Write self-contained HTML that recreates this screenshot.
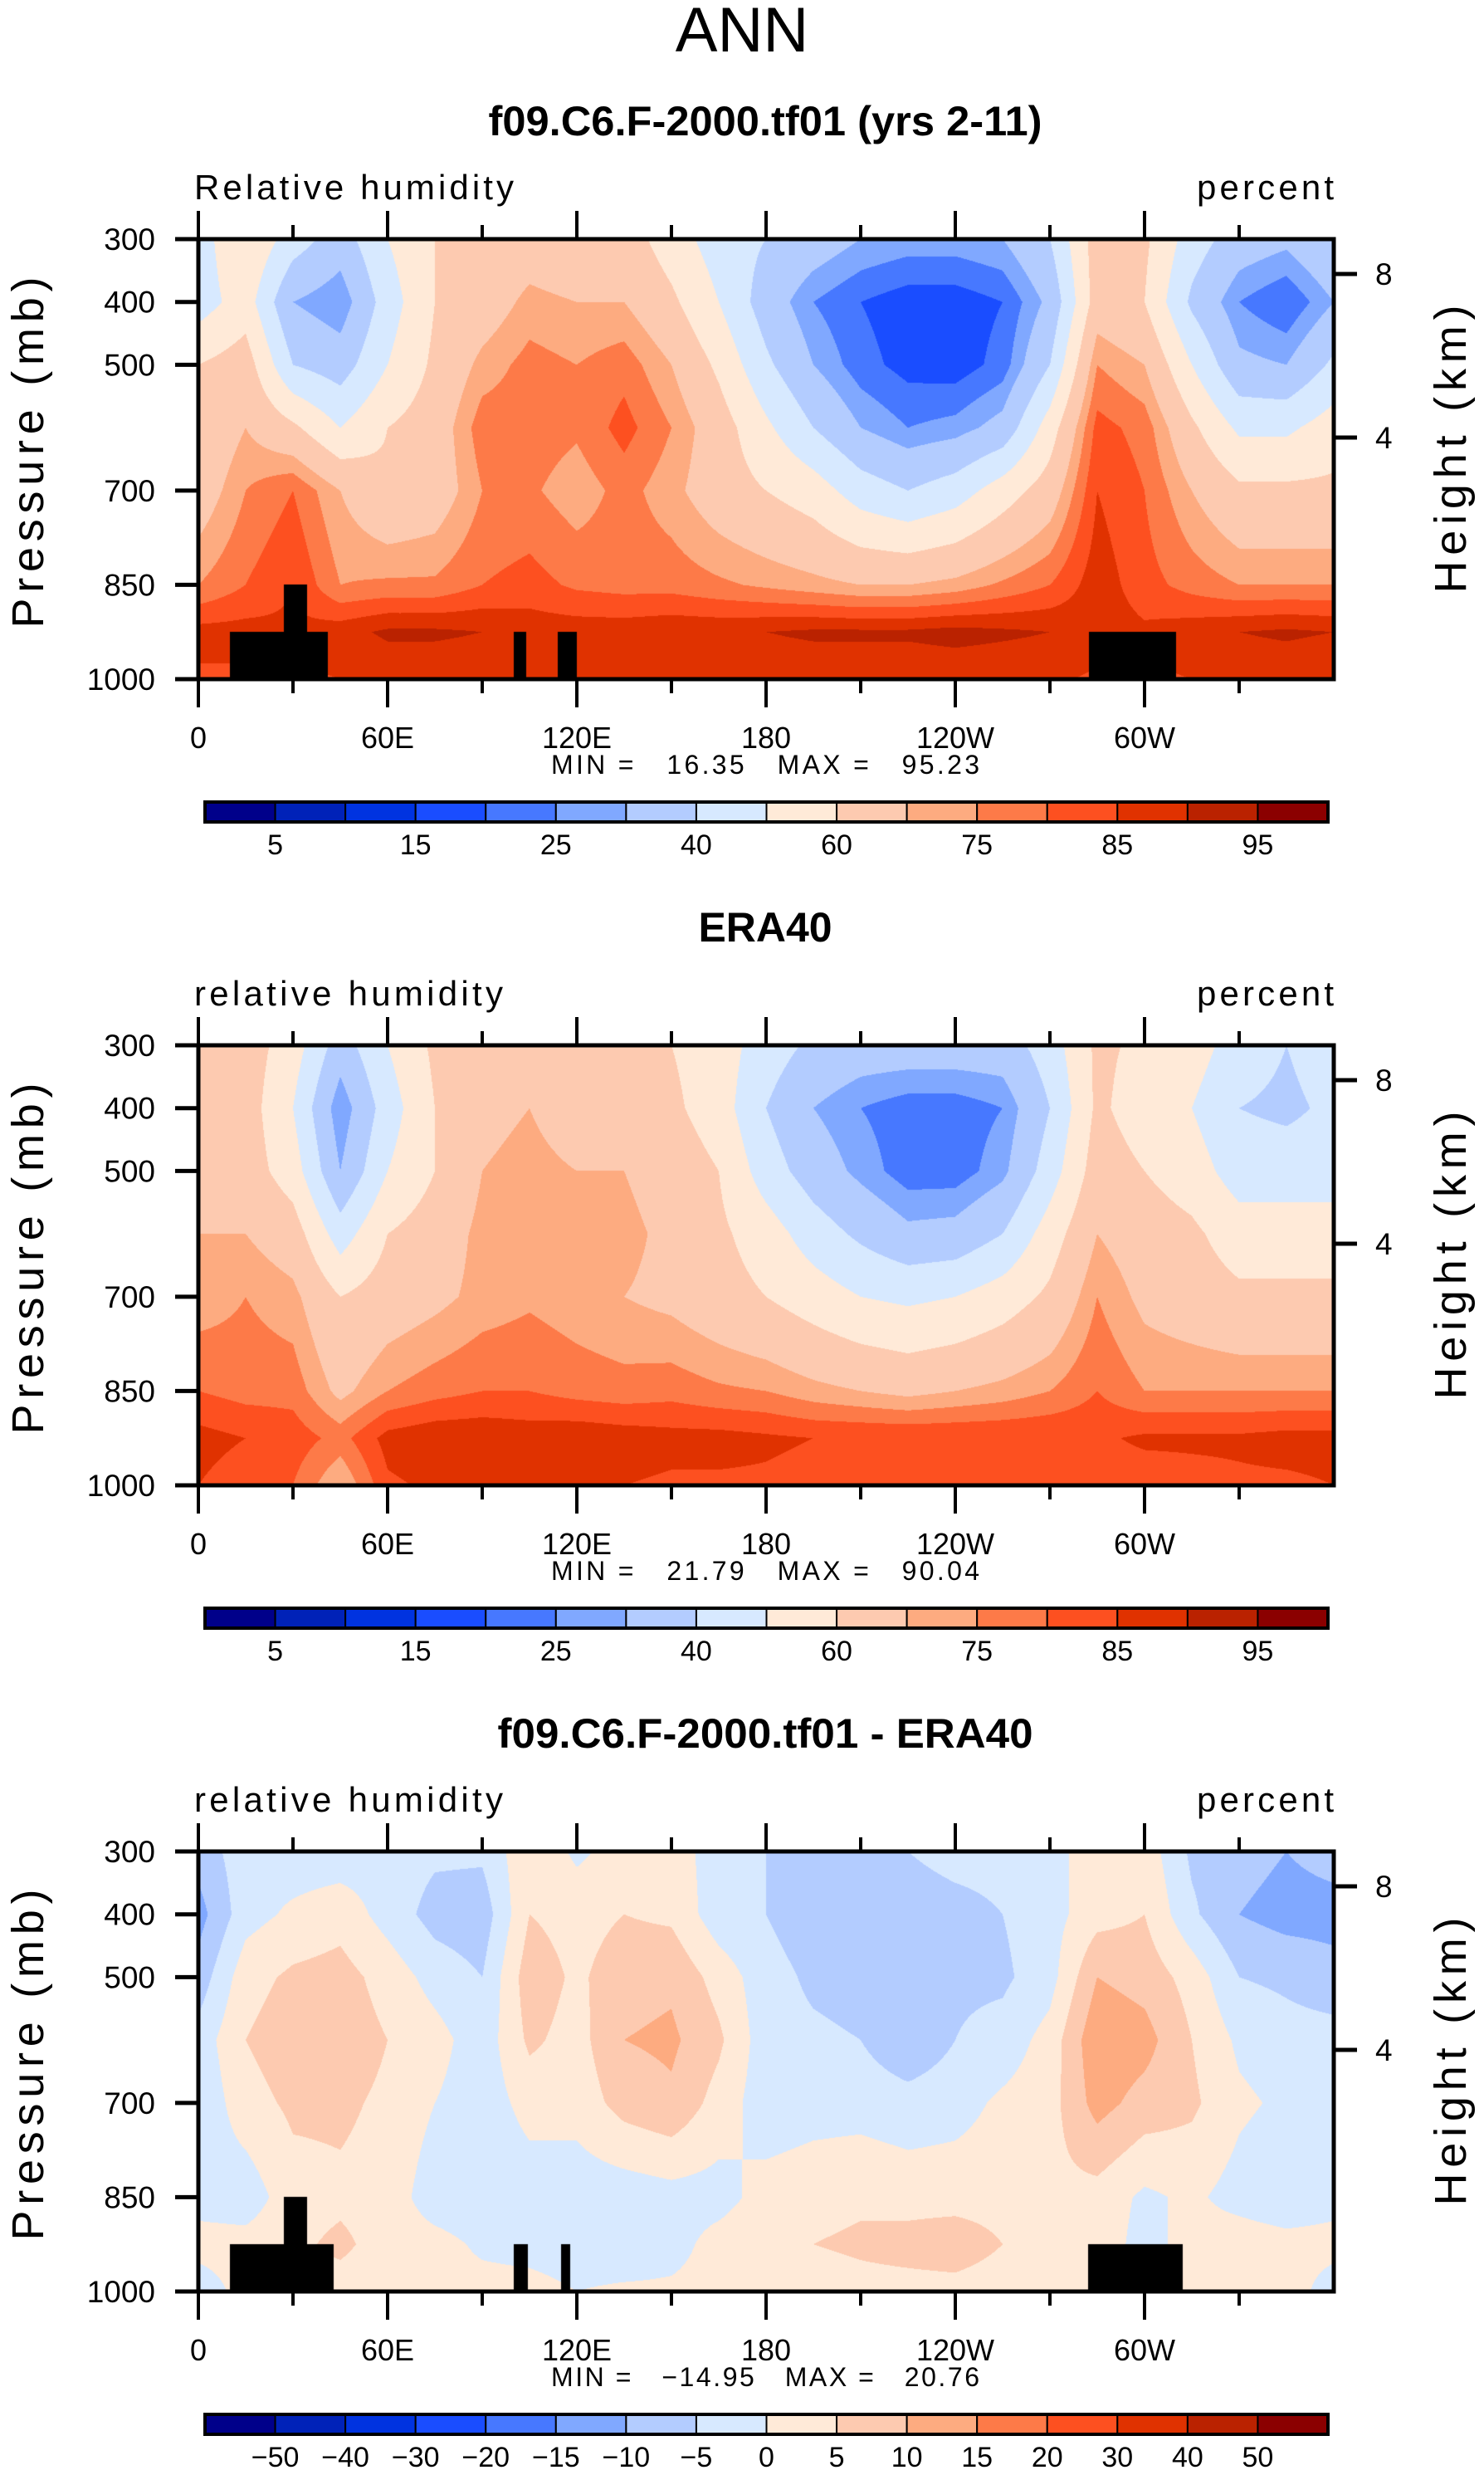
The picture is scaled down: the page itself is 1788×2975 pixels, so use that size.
<!DOCTYPE html>
<html><head><meta charset="utf-8">
<style>
body{margin:0;background:#fff;width:1788px;height:2975px;position:relative;overflow:hidden;font-family:"Liberation Sans",sans-serif}
canvas{position:absolute}
svg{position:absolute;left:0;top:0}
text{white-space:pre}
</style></head>
<body>
<canvas id="c1" width="1368" height="530" style="left:239px;top:288px"></canvas>
<canvas id="c2" width="1368" height="530" style="left:239px;top:1259px"></canvas>
<canvas id="c3" width="1368" height="530" style="left:239px;top:2230px"></canvas>
<svg id="ov" width="1788" height="2975"></svg>
<script>
// ---- data ----
const lons=[0,15,30,45,60,75,90,105,120,135,150,165,180,195,210,225,240,255,270,285,300,315,330,345,360];
const levels=[300,400,500,600,700,850,925,1000];
const rhModel=[
[45,45,60,62,65,75,87,84],[60,55,65,70,75,80,87,84],[45,30,40,62,80,85,86,84],[35,25,35,50,70,75,88,85],
[50,45,50,60,62,76,91,86],[60,60,62,65,65,76,91,86],[62,65,72,78,75,80,90,86],[65,72,77,78,76,82,88,85],
[62,70,75,76,72,79,88,85],[65,70,78,82,77,78,88,85],[55,62,70,75,72,78,89,85],[45,50,58,65,65,76,89,86],
[40,35,42,52,60,74,90,86],[35,25,30,40,55,72,91,86],[30,20,22,30,45,70,91,86],[28,17,18,25,40,70,91,86],
[28,17,17,27,45,72,92,86],[30,20,22,33,55,76,91,86],[40,32,40,55,65,80,90,86],[65,65,75,82,85,88,88,84],
[62,60,70,78,80,82,86,84],[45,38,50,62,70,78,88,85],[35,25,32,48,62,75,90,86],[32,20,30,48,62,75,91,86],
[40,30,42,55,62,75,90,85]];
const rhEra=[
[62,60,62,70,72,80,87,85],[65,65,65,70,75,78,85,82],[55,50,55,65,72,78,83,80],[35,25,30,45,60,68,78,70],
[50,45,50,60,65,75,87,84],[62,60,60,65,68,78,89,86],[65,68,70,72,72,80,89,86],[66,70,72,74,74,80,88,85],
[62,66,70,72,72,78,89,86],[62,66,70,72,70,77,88,85],[60,62,66,68,68,78,87,84],[55,55,60,62,64,76,87,84],
[45,40,45,55,60,75,86,84],[38,30,35,45,55,72,85,83],[35,25,28,38,50,70,85,83],[35,22,22,32,48,68,85,83],
[35,22,22,33,50,70,85,83],[35,25,28,40,55,72,85,83],[45,40,45,55,62,75,85,83],[62,62,65,70,75,80,84,82],
[58,55,60,65,68,75,86,82],[55,50,55,62,65,75,86,83],[45,40,45,55,62,75,86,84],[40,38,45,55,62,75,87,84],
[45,42,45,55,62,75,87,85]];
const rhDiff=[
[-8,-12,-8,-3,-4,-2,2,-3],[-2,-2,3,5,3,-3,2,2],[-3,1,6,8,6,3,4,3],[-3,3,7,8,6,4,6,3],
[-2,-2,3,5,4,3,3,2],[-4,-7,-2,2,0,-3,2,2],[-4,-8,-5,-3,-3,-4,-1,2],[4,5,8,6,2,-3,-2,2],
[-1,3,4,3,2,-3,-3,0],[2,5,8,10,7,-3,-4,1],[3,4,9,11,9,-2,-2,1],[-3,-3,3,6,3,-2,2,2],
[-5,-5,-3,-3,-3,2,4,2],[-6,-8,-6,-4,-2,3,5,2],[-8,-9,-7,-5,-2,4,6,3],[-5,-8,-8,-9,-3,3,7,3],
[-3,-7,-6,-5,-2,3,8,3],[-3,-5,-6,-3,1,3,5,2],[-2,-2,-2,2,3,4,3,2],[3,3,10,14,12,3,3,2],
[3,5,8,12,8,-1,-2,3],[-6,-4,3,5,6,1,2,3],[-8,-10,-5,-1,1,-2,3,2],[-10,-12,-6,-3,-1,-4,2,3],
[-8,-12,-8,-3,-4,-2,2,-3]];
const rhThresholds=[5,10,15,20,25,30,40,50,60,70,75,80,85,90,95];
const diffThresholds=[-50,-40,-30,-20,-15,-10,-5,0,5,10,15,20,30,40,50];
const rhTickLabels=['5','','15','','25','','40','','60','','75','','85','','95'];
const diffTickLabels=['\u221250','\u221240','\u221230','\u221220','\u221215','\u221210','\u22125','0','5','10','15','20','30','40','50'];
const palette=['#00008a','#0022b8','#0033e0','#1a4dff','#4778ff','#80a8ff','#b3ccff','#d7e9ff','#ffead8','#fdcab0','#fdab80','#fd7a48','#fd5020','#e03200','#ba2200','#8b0000'];
const landModel=[[10,41,925],[27,34.5,850],[100,104,925],[114,120,925],[282.5,310,925]];
const landDiff=[[10,43,925],[27,34.5,850],[100,104.5,925],[115,118,925],[282,312,925]];
const lonTicks=[0,60,120,180,240,300];
const lonLabels=['0','60E','120E','180','120W','60W'];
const pTicks=[300,400,500,700,850,1000];
const hTicks=[8,4];

const PX=239,PW=1368,PH=530;
const panels=[{top:288,data:rhModel,th:rhThresholds,lab:rhTickLabels,land:landModel,title:'f09.C6.F-2000.tf01 (yrs 2-11)',tw:667,left:'Relative humidity',lw:385,mn:'16.35',mx:'95.23',cv:'c1'},
{top:1259,data:rhEra,th:rhThresholds,lab:rhTickLabels,land:[],title:'ERA40',tw:161,left:'relative humidity',lw:372,mn:'21.79',mx:'90.04',cv:'c2'},
{top:2230,data:rhDiff,th:diffThresholds,lab:diffTickLabels,land:landDiff,title:'f09.C6.F-2000.tf01 - ERA40',tw:645,left:'relative humidity',lw:372,mn:'\u221214.95',mx:'20.76',cv:'c3'}];
const xOf=l=>PX+l/360*PW;
const yOf=(p,top)=>top+(p-300)/700*PH;
function hexRGB(h){return [parseInt(h.substr(1,2),16),parseInt(h.substr(3,2),16),parseInt(h.substr(5,2),16)]}
const palRGB=palette.map(hexRGB);

function drawField(pn){
  const cv=document.getElementById(pn.cv),ctx=cv.getContext('2d');
  const img=ctx.createImageData(PW,PH),d=img.data;
  for(let y=0;y<PH;y++){
    const p=300+(y+0.5)/PH*700;
    let k=0;while(k<levels.length-2&&p>levels[k+1])k++;
    const fy=(p-levels[k])/(levels[k+1]-levels[k]);
    for(let x=0;x<PW;x++){
      const lon=(x+0.5)/PW*360;
      let i=Math.min(Math.floor(lon/15),lons.length-2);
      const fx=(lon-lons[i])/15;
      const a=pn.data[i][k],b=pn.data[i+1][k],c=pn.data[i][k+1],e=pn.data[i+1][k+1];
      const v=(a*(1-fx)+b*fx)*(1-fy)+(c*(1-fx)+e*fx)*fy;
      let ci=0;while(ci<pn.th.length&&v>=pn.th[ci])ci++;
      let col=palRGB[ci];
      for(const m of pn.land){if(lon>=m[0]&&lon<=m[1]&&p>=m[2]){col=[0,0,0];break;}}
      const o=(y*PW+x)*4;d[o]=col[0];d[o+1]=col[1];d[o+2]=col[2];d[o+3]=255;
    }
  }
  ctx.putImageData(img,0,0);
}
const NS='http://www.w3.org/2000/svg',ov=document.getElementById('ov');
function mk(tag,attrs,txt){const e=document.createElementNS(NS,tag);for(const k in attrs)e.setAttribute(k,attrs[k]);if(txt!==undefined)e.textContent=txt;ov.appendChild(e);return e;}

let t=mk('text',{x:894,y:62,'font-size':76,'text-anchor':'middle'},'ANN');



panels.forEach((pn,pi)=>{
  drawField(pn);
  const T=pn.top,B=T+PH;
  let e;
  e=mk('text',{x:922,y:T-125,'font-size':50,'font-weight':'bold','text-anchor':'middle','textLength':pn.tw,'lengthAdjust':'spacingAndGlyphs'},pn.title);
  
  
  e=mk('text',{x:234,y:T-48,'font-size':42,textLength:pn.lw,lengthAdjust:'spacing'},pn.left);
  
  
  e=mk('text',{x:1442,y:T-48,'font-size':42,textLength:165,lengthAdjust:'spacing'},'percent');
  
  
  e=mk('rect',{x:PX,y:T,width:PW,height:PH,fill:'none',stroke:'#000','stroke-width':5});
  
  
  for(let l=0;l<360;l+=30){
    const major=l%60===0,len=major?34:17;
    e=mk('line',{x1:xOf(l),x2:xOf(l),y1:T,y2:T-len,stroke:'#000','stroke-width':4});
    
    
    e=mk('line',{x1:xOf(l),x2:xOf(l),y1:B,y2:B+len,stroke:'#000','stroke-width':4});
    
    
  }
  lonTicks.forEach((l,i)=>{
    e=mk('text',{x:xOf(l),y:B+83,'font-size':36,'text-anchor':'middle'},lonLabels[i]);
    
    
  });
  pTicks.forEach(p=>{
    e=mk('line',{x1:PX-28,x2:PX,y1:yOf(p,T),y2:yOf(p,T),stroke:'#000','stroke-width':5});
    
    
    e=mk('text',{x:PX-52,y:yOf(p,T)+13,'font-size':37,'text-anchor':'end'},String(p));
    
    
  });
  hTicks.forEach((h,i)=>{
    const y=T+[42,239][i];
    e=mk('line',{x1:PX+PW,x2:PX+PW+28,y1:y,y2:y,stroke:'#000','stroke-width':5});
    
    
    e=mk('text',{x:PX+PW+50,y:y+13,'font-size':37},String(h));
    
    
  });
  e=mk('text',{x:0,y:0,'font-size':54,'text-anchor':'middle',textLength:423,lengthAdjust:'spacing',transform:`translate(52,${T+257}) rotate(-90)`},'Pressure (mb)');
  
  
  e=mk('text',{x:0,y:0,'font-size':54,'text-anchor':'middle',textLength:347,lengthAdjust:'spacing',transform:`translate(1766,${T+253}) rotate(-90)`},'Height (km)');
  
  
  e=mk('text',{x:664,y:B+114,'font-size':32,textLength:516,lengthAdjust:'spacing'},'MIN =   '+pn.mn+'   MAX =   '+pn.mx);
  
  
  const cbT=T+678,cbX=247,cbW=1353,bw=cbW/16;
  palette.forEach((c,i)=>{
    e=mk('rect',{x:cbX+i*bw,y:cbT,width:bw,height:24,fill:c,stroke:'#000','stroke-width':2});
    
    
  });
  e=mk('rect',{x:cbX,y:cbT,width:cbW,height:24,fill:'none',stroke:'#000','stroke-width':4});
  
  
  pn.lab.forEach((s,i)=>{
    if(!s)return;
    e=mk('text',{x:cbX+(i+1)*bw,y:cbT+63,'font-size':34,'text-anchor':'middle'},s);
    
    
  });
});
</script>
</body></html>
